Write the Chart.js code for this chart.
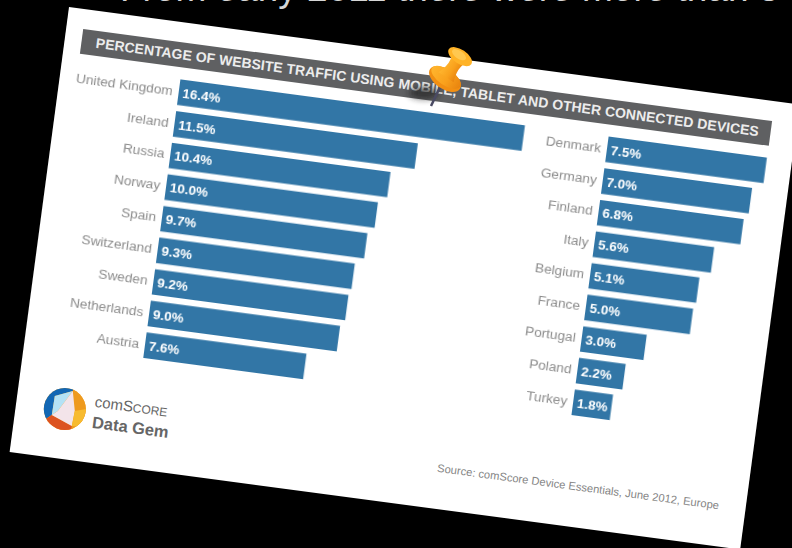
<!DOCTYPE html>
<html>
<head>
<meta charset="utf-8">
<title>Mobile traffic share</title>
<script src="https://cdn.jsdelivr.net/npm/chart.js@4/dist/chart.umd.min.js"></script>
<style>
    html, body { margin: 0; width: 792px; height: 548px; background: #000; overflow: hidden; font-family: "Liberation Sans", sans-serif; }
    #slide-title { position: absolute; left: 120px; top: -32.5px; font-size: 37px; line-height: 42px; color: #d6d6d6; white-space: nowrap; }
    #card { position: absolute; left: 69px; top: 7px; width: 737px; height: 449px; background: #fff; transform-origin: 0 0; transform: rotate(7.6deg); }
    #card canvas { position: absolute; top: 54px; }
    #chart-left { left: 0; }
    #chart-right { left: 462px; }
    #banner { position: absolute; left: 16.5px; top: 19.5px; width: 695.5px; height: 25px; background: #5f6062; color: #ececec; font-weight: bold; font-size: 14px; line-height: 25px; padding-left: 15px; box-sizing: border-box; white-space: nowrap; letter-spacing: 0.06px; }
    #source { position: absolute; left: 426px; top: 400px; font-size: 11.2px; line-height: 16px; color: #858585; white-space: nowrap; }
    #brand { position: absolute; left: 78px; top: 379px; color: #666; white-space: nowrap; }
    #brand .top { font-size: 15px; line-height: 18px; }
    #brand .top small { font-size: 12px; }
    #brand .bottom { font-size: 16.5px; line-height: 20px; font-weight: bold; }
    #logo { position: absolute; left: 27px; top: 377px; }
    #pin { position: absolute; left: 410px; top: 35px; overflow: visible; }
</style>
</head>
<body>
<div id="slide-title">From early 2011 there were more than 5</div>
<div id="card">
    <div id="banner">PERCENTAGE OF WEBSITE TRAFFIC USING MOBILE, TABLET AND OTHER CONNECTED DEVICES</div>
    <canvas id="chart-left" width="480" height="287"></canvas>
    <canvas id="chart-right" width="260" height="287"></canvas>
    <svg id="logo" width="44" height="44" viewBox="0 0 44 44">
        <defs><clipPath id="disc"><circle cx="22" cy="22" r="21"/></clipPath></defs>
        <g clip-path="url(#disc)" transform="rotate(-7.6 22 22)">
            <rect width="44" height="44" fill="#f0a020"/>
            <polygon points="0,0 31,0 30,4 12,9 9,28 0,34" fill="#1267b4"/>
            <polygon points="31,0 44,0 44,44 28,44 29,39 32,24 30,4" fill="#ee9a1e"/>
            <polygon points="9,28 29,39 28,44 0,44 0,34" fill="#dc5320"/>
            <polygon points="30,4 12,9 9,28 15,24" fill="#b4e2f6"/>
            <polygon points="30,4 15,24 9,28 29,39 32,24" fill="#f3e4ea"/>
            <polygon points="32,24 44,22 38,40 29,39" fill="#f7bb30"/>
        </g>
    </svg>
    <div id="brand">
        <div class="top">com<span>S</span><small>CORE</small></div>
        <div class="bottom">Data Gem</div>
    </div>
    <div id="source">Source: comScore Device Essentials, June 2012, Europe</div>
</div>
<svg id="pin" width="80" height="80" viewBox="0 0 80 80">
    <defs>
        <linearGradient id="pinBody" x1="0" y1="0" x2="1" y2="0">
            <stop offset="0" stop-color="#ffb52e"/>
            <stop offset="0.55" stop-color="#f9a11c"/>
            <stop offset="1" stop-color="#e8830e"/>
        </linearGradient>
        <filter id="soft" x="-50%" y="-100%" width="200%" height="300%"><feGaussianBlur stdDeviation="3"/></filter>
    </defs>
    <ellipse cx="14" cy="58" rx="15" ry="6" fill="#222" opacity="0.7" filter="url(#soft)"/>
    <line x1="21" y1="71" x2="31" y2="50" stroke="#4a4a63" stroke-width="2.5"/>
    <g transform="translate(35 44) rotate(34)">
        <ellipse cx="0" cy="0" rx="18" ry="10" fill="#f28f12"/>
        <ellipse cx="0" cy="-2" rx="17" ry="8" fill="url(#pinBody)"/>
        <path d="M-9,-2 C-5,-12 -5,-19 -9,-27 L9,-27 C5,-19 5,-12 9,-2 Z" fill="url(#pinBody)"/>
        <ellipse cx="0" cy="-27" rx="13.5" ry="7" fill="#ffb327"/>
        <ellipse cx="-2" cy="-28" rx="8" ry="4" fill="#ffc850"/>
    </g>
</svg>
<script>
// left column of the ranking
const leftCountries = ['United Kingdom', 'Ireland', 'Russia', 'Norway', 'Spain', 'Switzerland', 'Sweden', 'Netherlands', 'Austria'];
const leftShares = [16.4, 11.5, 10.4, 10.0, 9.7, 9.3, 9.2, 9.0, 7.6];

// right column of the ranking
const rightCountries = ['Denmark', 'Germany', 'Finland', 'Italy', 'Belgium', 'France', 'Portugal', 'Poland', 'Turkey'];
const rightShares = [7.5, 7.0, 6.8, 5.6, 5.1, 5.0, 3.0, 2.2, 1.8];

// writes the share inside the start of each bar
const shareLabels = {
    id: 'shareLabels',
    afterDatasetsDraw(chart) {
        const ctx = chart.ctx;
        const meta = chart.getDatasetMeta(0);
        ctx.save();
        ctx.fillStyle = '#ffffff';
        ctx.font = 'bold 13.5px "Liberation Sans"';
        ctx.textBaseline = 'middle';
        meta.data.forEach((bar, i) => {
            const value = chart.data.datasets[0].data[i];
            ctx.fillText(value.toFixed(1) + '%', chart.scales.x.left + 4, bar.y + 1);
        });
        ctx.restore();
    }
};

function drawColumn(id, countries, shares, axisWidth, maxShare) {
    return new Chart(document.getElementById(id), {
        type: 'bar',
        data: {
            labels: countries,
            datasets: [{
                data: shares,
                backgroundColor: '#3276a6',
                barThickness: 25
            }]
        },
        options: {
            indexAxis: 'y',
            responsive: false,
            animation: false,
            layout: { padding: 0 },
            plugins: { legend: { display: false }, tooltip: { enabled: false } },
            scales: {
                x: { min: 0, max: maxShare, display: false },
                y: {
                    // fixed gutter so both columns share one px-per-percent
                    afterFit(scale) {
                        scale.width = axisWidth;
                        scale.paddingTop = 0;
                        scale.paddingBottom = 0;
                    },
                    grid: { display: false, drawTicks: false },
                    border: { display: false },
                    ticks: {
                        color: '#8c8c8c',
                        padding: 6,
                        font: { family: '"Liberation Sans"', size: 13.7 }
                    }
                }
            }
        },
        plugins: [shareLabels]
    });
}

drawColumn('chart-left', leftCountries, leftShares, 120, 17);
drawColumn('chart-right', rightCountries, rightShares, 90, 8);
</script>
</body>
</html>
